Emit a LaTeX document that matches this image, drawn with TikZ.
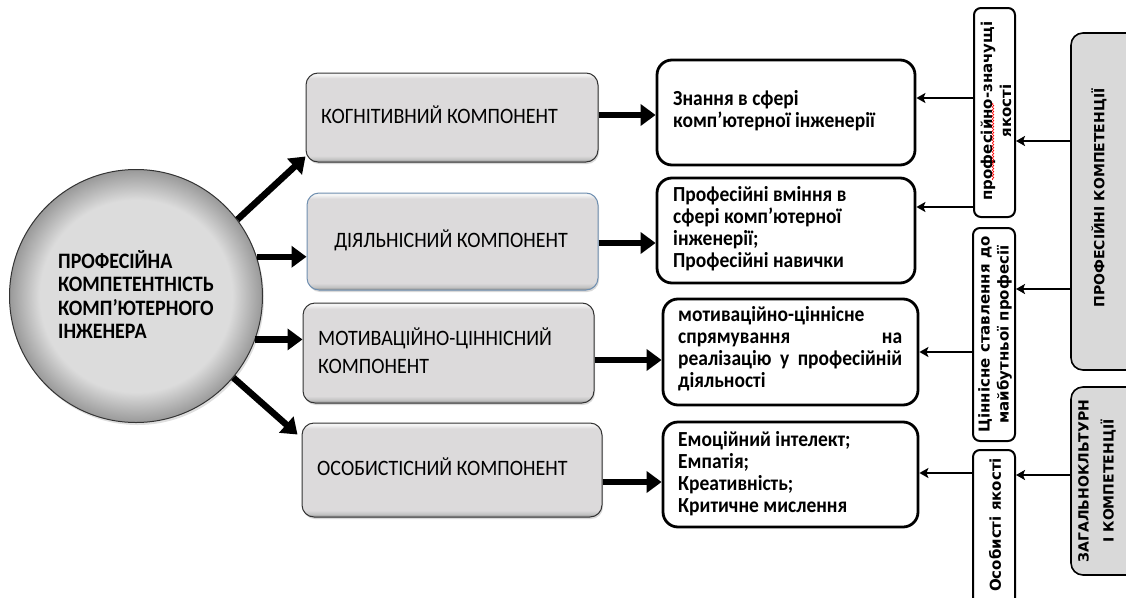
\documentclass[tikz,border=0pt]{standalone}
\usepackage{fontspec}
\usepackage{graphicx}
\setmainfont{Carlito}
\newfontfamily\dvs{DejaVu Sans}
\usetikzlibrary{arrows.meta,shadows,calc,decorations.pathmorphing}
\newcommand\tallL[1]{\scalebox{1}[1.1]{\begin{tabular}{@{}l@{}}#1\end{tabular}}}
\definecolor{cin}{HTML}{DCDCDC}
\definecolor{cout}{HTML}{999999}
\definecolor{bvd}{HTML}{8A8A8A}
\definecolor{bvm}{HTML}{C2C2C2}
\definecolor{bvf}{HTML}{DCDADB}
\definecolor{bvl}{HTML}{F4F4F4}
\definecolor{bgrey}{HTML}{D9D9D9}
\definecolor{blueedge}{HTML}{6F8FB0}
\pgfdeclareradialshading{sphere}{\pgfpoint{0bp}{0bp}}{color(0bp)=(cin); color(19bp)=(cin); color(25bp)=(cout); color(50bp)=(cout)}
\pgfdeclareverticalshading{bevel}{100bp}{color(0bp)=(bvd); color(25bp)=(bvd); color(26.5bp)=(bvm); color(28.5bp)=(bvf); color(72bp)=(bvf); color(74bp)=(bvl); color(75bp)=(bvl); color(100bp)=(bvl)}
\begin{document}
\begin{tikzpicture}[x=1pt,y=-1pt,
  gbox/.style={rectangle, rounded corners=12pt, draw=black!80, line width=1pt, shading=bevel, shade, inner sep=0pt,
    drop shadow={shadow xshift=1pt, shadow yshift=-2pt, opacity=0.3}},
  wbox/.style={rectangle, rounded corners=15pt, draw=black, line width=2.8pt, fill=white, inner sep=0pt},
  vbox/.style={rectangle, rounded corners=7pt, draw=black, line width=2pt, fill=white, inner sep=0pt},
  bigbox/.style={rectangle, rounded corners=12pt, draw=black, line width=1.6pt, fill=bgrey, inner sep=0pt},
  bigarr/.style={line width=6.5pt, -{Triangle[length=15pt,width=21pt]}},
  smarr/.style={line width=2.8pt, -{Stealth[length=9pt,width=10pt,inset=2pt]}},
  gtext/.style={font=\fontsize{20}{25.5}\selectfont, inner sep=0pt},
  wtext/.style={font=\bfseries\fontsize{19.5}{20}\selectfont, inner sep=0pt},
  ctext/.style={font=\bfseries\fontsize{20}{21}\selectfont, inner sep=0pt},
  vtext/.style={font=\dvs\bfseries\fontsize{15}{19}\selectfont, align=center, rotate=90, inner sep=0pt},
  btext/.style={font=\dvs\bfseries\fontsize{14}{25}\selectfont, align=center, rotate=90, inner sep=0pt}]
\useasboundingbox (0,0) rectangle (1126,597);
\clip (0,0) rectangle (1126,597);

% circle
\node[circle, draw=black!80, line width=1pt, shading=sphere, shade, minimum size=253pt, inner sep=0pt,
  drop shadow={shadow xshift=1.5pt, shadow yshift=-2.5pt, opacity=0.25}] (c) at (136,296) {};
\node[ctext, anchor=west] (ct) at (58,298) {\tallL{ПРОФЕСІЙНА\\КОМПЕТЕНТНІСТЬ\\КОМП’ЮТЕРНОГО\\ІНЖЕНЕРА}};

% grey component boxes
\node[gbox, minimum width=292pt, minimum height=89pt] (g1) at (452,117.5) {};
\node[gbox, draw=blueedge, minimum width=291pt, minimum height=97pt] (g2) at (452.5,241.5) {};
\node[gbox, minimum width=291pt, minimum height=100pt] (g3) at (448.5,353) {};
\node[gbox, minimum width=300pt, minimum height=94pt] (g4) at (452,470) {};
\node[gtext, anchor=west] (g1t) at (321,118) {\tallL{КОГНІТИВНИЙ КОМПОНЕНТ}};
\node[gtext] (g2t) at (451,242) {\tallL{ДІЯЛЬНІСНИЙ КОМПОНЕНТ}};
\node[gtext, anchor=west] (g3t) at (318,354) {\tallL{МОТИВАЦІЙНО-ЦІННІСНИЙ\\КОМПОНЕНТ}};
\node[gtext, anchor=west] (g4t) at (317,470) {\tallL{ОСОБИСТІСНИЙ КОМПОНЕНТ}};

% white boxes
\node[wbox, minimum width=258pt, minimum height=105pt] (w1) at (786,112.5) {};
\node[wbox, minimum width=258pt, minimum height=105pt] (w2) at (786,230.5) {};
\node[wbox, minimum width=255pt, minimum height=106pt] (w3) at (790.5,352) {};
\node[wbox, minimum width=255pt, minimum height=105pt] (w4) at (790.5,474.5) {};
\node[wtext, anchor=west] (w1t) at (673,112) {\tallL{Знання в сфері\\комп’ютерної інженерії}};
\node[wtext, anchor=west] (w2t) at (673,230) {\tallL{Професійні вміння в\\сфері комп’ютерної\\інженерії;\\Професійні навички}};
\node[wtext, anchor=west] (w3t) at (678,350) {\tallL{мотиваційно-ціннісне\\\makebox[224pt][s]{спрямування на}\\\makebox[224pt][s]{реалізацію у професійній}\\діяльності}};
\node[wtext, anchor=west] (w4t) at (678,475) {\tallL{Емоційний інтелект;\\Емпатія;\\Креативність;\\Критичне мислення}};

% vertical boxes
\node[vbox, minimum width=41pt, minimum height=209pt] (v1) at (994.5,112.5) {};
\node[vbox, minimum width=42pt, minimum height=213pt] (v2) at (994,334.5) {};
\node[vbox, minimum width=42pt, minimum height=170pt] (v3) at (994,535) {};
\node[vtext] (v1t) at (996,111) {професійно-значущі\\якості};
\node[vtext] (v2t) at (995,334.5) {Ціннісне ставлення до\\майбутньої професії};
\node[vtext] (v3t) at (995,525) {Особисті якості};
\draw[red, line width=0.6pt, decorate, decoration={snake, amplitude=0.8pt, segment length=3pt}]
  (993,180) -- (993,103);

% big grey boxes
\node[bigbox, minimum width=80pt, minimum height=337pt] (b1) at (1111,201.5) {};
\node[bigbox, minimum width=80pt, minimum height=188pt] (b2) at (1111,481) {};
\node[btext] (b1t) at (1099,198) {ПРОФЕСІЙНІ КОМПЕТЕНЦІЇ};
\node[btext] (b2t) at (1097,481) {ЗАГАЛЬНОКЛЬТУРН\\І КОМПЕТЕНЦІЇ};

% arrows from circle
\draw[bigarr] (c.37) -- ($(g1.south west)+(0,-6)$);
\draw[bigarr] (c.18) -- (c.18 -| g2.west);
\draw[bigarr] (c.-20) -- (c.-20 -| g3.west);
\draw[bigarr] (c.-40) -- ($(g4.north west)+(-4,12)$);

% arrows grey -> white
\coordinate (a1) at ([yshift=2.5pt]g1.east);
\coordinate (a2) at ([yshift=-1.5pt]g2.east);
\coordinate (a3) at ([yshift=-7pt]g3.east);
\coordinate (a4) at ([yshift=-12pt]g4.east);
\draw[bigarr] (a1) -- (a1 -| w1.west);
\draw[bigarr] (a2) -- (a2 -| w2.west);
\draw[bigarr] (a3) -- (a3 -| w3.west);
\draw[bigarr] (a4) -- (a4 -| w4.west);

% thin arrows vertical boxes -> white boxes
\coordinate (s1) at ([yshift=14.5pt]v1.west);
\coordinate (s2) at ([yshift=-94.5pt]v1.west);
\coordinate (s3) at ([yshift=-17.5pt]v2.west);
\coordinate (s4) at ([yshift=62pt]v3.west);
\draw[smarr] (s1) -- (s1 -| w1.east);
\draw[smarr] (s2) -- (s2 -| w2.east);
\draw[smarr] (s3) -- (s3 -| w3.east);
\draw[smarr] (s4) -- (s4 -| w4.east);

% thin arrows big boxes -> vertical boxes
\coordinate (t1) at ([yshift=60.5pt]b1.west);
\coordinate (t2) at ([yshift=-87.5pt]b1.west);
\coordinate (t3) at ([yshift=6pt]b2.west);
\draw[smarr] (t1) -- (t1 -| v1.east);
\draw[smarr] (t2) -- (t2 -| v2.east);
\draw[smarr] (t3) -- (t3 -| v3.east);
\end{tikzpicture}
\end{document}
